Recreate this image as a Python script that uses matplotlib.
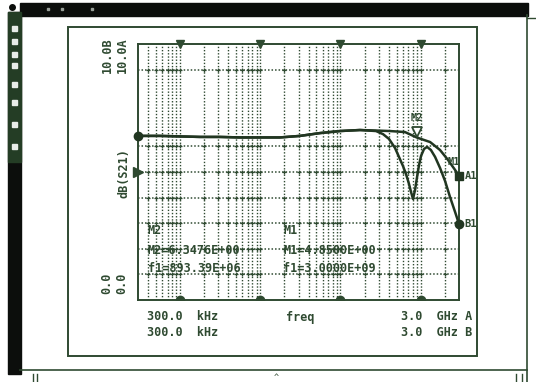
import matplotlib
matplotlib.use('Agg')
import matplotlib.pyplot as plt
from matplotlib.patches import Rectangle
from matplotlib.ticker import NullLocator
from matplotlib.transforms import offset_copy

ink = '#2f4a31'
trace_col = '#213621'
mono = 'DejaVu Sans Mono'

# S21 sweep, 300 kHz .. 3 GHz, magnitude in dB
freq_a = [3.0e5, 5.64e5, 1.0e6, 1.78e6, 3.16e6, 5.6e6, 1.0e7, 1.76e7, 3.13e7, 5.56e7,
          9.87e7, 1.75e8, 2.77e8, 4.14e8, 6.37e8, 8.9339e8, 1.31e9, 1.74e9, 2.19e9,
          2.68e9, 3.0e9]
s21_a = [6.41, 6.41, 6.39, 6.37, 6.37, 6.35, 6.35, 6.35, 6.41, 6.52,
         6.60, 6.64, 6.62, 6.60, 6.56, 6.3476, 6.17, 5.86, 5.47,
         5.08, 4.85]

freq_b = [3.0e5, 5.64e5, 1.0e6, 1.78e6, 3.16e6, 5.6e6, 1.0e7, 1.76e7, 3.13e7, 5.56e7,
          9.87e7, 1.75e8, 2.77e8, 3.39e8, 4.03e8, 4.78e8, 5.36e8, 6.02e8, 6.56e8,
          7.15e8, 7.57e8, 8.02e8, 8.50e8, 9.00e8, 9.53e8, 1.01e9, 1.10e9, 1.20e9,
          1.34e9, 1.51e9, 1.74e9, 2.01e9, 2.32e9, 2.68e9, 3.0e9]
s21_b = [6.41, 6.41, 6.39, 6.37, 6.37, 6.35, 6.35, 6.35, 6.41, 6.52,
         6.60, 6.64, 6.60, 6.48, 6.29, 5.94, 5.59, 5.23, 4.92,
         4.53, 4.22, 3.95, 4.30, 4.80, 5.27, 5.63, 5.90, 5.98,
         5.86, 5.59, 5.16, 4.65, 4.02, 3.44, 2.97]

# markers
m2_freq, m2_val = 893.39e6, 6.3476
m1_freq, m1_val = 3.0e9, 4.85
b1_freq, b1_val = 3.0e9, 2.97

ref_level = 5.0
h_grid = [1, 2, 3, 4, 5, 6, 9]
decades = [1e6, 1e7, 1e8, 1e9]

fig = plt.figure(figsize=(5.36, 3.82), dpi=100)

# page furniture drawn in pixel units
bg = fig.add_axes([0, 0, 1, 1], zorder=0)
bg.set_xlim(0, 536)
bg.set_ylim(382, 0)
bg.axis('off')
bg.add_patch(Rectangle((20, 3), 508, 13, color='#0c0e0c'))
bg.add_patch(Rectangle((8, 12), 13, 362, color='#0c0e0c'))
bg.add_patch(Rectangle((8, 12), 13, 150, color='#243d25'))
for yy in [26, 39, 52, 63, 82, 100, 122, 144]:
    bg.add_patch(Rectangle((12, yy), 5, 5, color='#e8ece8'))
for xx in [48, 62, 92]:
    bg.plot(xx, 9, 's', ms=1.5, color='#9aa09a')
bg.plot(12, 7, 'o', ms=4, color='#0c0e0c')
bg.plot([527, 527], [15, 382], color=ink, lw=1.2)
bg.plot([527, 536], [18, 18], color=ink, lw=1.0)
bg.plot([20, 527], [370, 370], color=ink, lw=1.2)
bg.add_patch(Rectangle((68, 27), 409, 329, fill=False, ec=ink, lw=1.4))
bg.text(276, 378, '^', ha='center', va='center', fontsize=6, color=ink, family=mono)
for xx in [33, 37, 516, 522]:
    bg.plot([xx, xx], [374, 382], color=ink, lw=1.0)

lab = dict(family=mono, weight='bold', fontsize=8.5, color=ink)
bg.text(107, 55, '10.0B', rotation=90, ha='center', va='center', **lab)
bg.text(122, 55, '10.0A', rotation=90, ha='center', va='center', **lab)
bg.text(124, 173, 'dB(S21)', rotation=90, ha='center', va='center', **lab)
bg.text(107, 283, '0.0', rotation=90, ha='center', va='center', **lab)
bg.text(122, 283, '0.0', rotation=90, ha='center', va='center', **lab)
bg.text(147, 317, '300.0  kHz', ha='left', va='center', **lab)
bg.text(147, 333, '300.0  kHz', ha='left', va='center', **lab)
bg.text(286, 317, 'freq', ha='left', va='center', **lab)
bg.text(401, 317, '3.0  GHz A', ha='left', va='center', **lab)
bg.text(401, 333, '3.0  GHz B', ha='left', va='center', **lab)

# the plot itself
ax = fig.add_axes([138 / 536, 82 / 382, 321 / 536, 256 / 382], zorder=1)
ax.set_xscale('log')
ax.set_xlim(3e5, 3e9)
ax.set_ylim(0, 10)
for a in (ax.xaxis, ax.yaxis):
    a.set_major_locator(NullLocator())
    a.set_minor_locator(NullLocator())
for s in ax.spines.values():
    s.set_color(ink)
    s.set_linewidth(1.4)

# log grid, 1..9 per decade
vlines = []
for d in [1e5, 1e6, 1e7, 1e8, 1e9]:
    for k in range(1, 10):
        f = k * d
        if 3e5 < f < 3e9:
            vlines.append(f)
ax.vlines(vlines, 0, 10, colors=ink, lw=1.0, linestyles=(0, (1, 1.3)))
ax.hlines(h_grid, 3e5, 3e9, colors=ink, lw=1.1, linestyles=(0, (1, 1.3)))
for y in h_grid:
    ax.plot(vlines, [y] * len(vlines), '+', ms=3, mew=0.9, color=ink)

ax.plot(decades, [10] * 4, 'v', ms=6, color=ink, clip_on=False)
ax.plot(decades, [0] * 4, 'o', ms=6, color=ink)
ax.plot(3e5, ref_level, '>', ms=7, color=ink, clip_on=False)

ax.plot(freq_b, s21_b, color=trace_col, lw=1.8, zorder=3)
ax.plot(freq_a, s21_a, color=trace_col, lw=1.8, zorder=3)
ax.plot(freq_a[0], s21_a[0], 'o', ms=6, color=trace_col, clip_on=False, zorder=4)

up = offset_copy(ax.transData, fig=fig, x=0, y=4, units='points')
ax.plot(m2_freq, m2_val, 'v', ms=7, mfc='white', mec=ink, mew=1.3, transform=up, zorder=5)
mk = dict(family=mono, weight='bold', fontsize=7.5, color=ink)
ax.annotate('M2', (m2_freq, m2_val), xytext=(0, 14), textcoords='offset points',
            ha='center', va='center', **mk)
ax.plot(m1_freq, m1_val, 's', ms=6, color=trace_col, clip_on=False, zorder=5)
ax.annotate('M1', (m1_freq, m1_val), xytext=(-4, 10), textcoords='offset points',
            ha='center', va='center', **mk)
ax.annotate('A1', (m1_freq, m1_val), xytext=(4, 0), textcoords='offset points',
            ha='left', va='center', annotation_clip=False, **mk)
ax.plot(b1_freq, b1_val, 'o', ms=6, color=trace_col, clip_on=False, zorder=5)
ax.annotate('B1', (b1_freq, b1_val), xytext=(4, 0), textcoords='offset points',
            ha='left', va='center', annotation_clip=False, **mk)

# marker readouts
rd = dict(family=mono, weight='bold', fontsize=8.5, color=ink, transform=ax.transAxes,
          ha='left', va='center')
ax.text(0.031, 0.273, 'M2', **rd)
ax.text(0.031, 0.195, 'M2=%.4fE+00' % m2_val, **rd)
ax.text(0.031, 0.125, 'f1=%.2fE+06' % (m2_freq / 1e6), **rd)
ax.text(0.452, 0.273, 'M1', **rd)
ax.text(0.452, 0.195, 'M1=%.4fE+00' % m1_val, **rd)
ax.text(0.452, 0.125, 'f1=%.4fE+09' % (m1_freq / 1e9), **rd)

fig.savefig('out.png', dpi=100)
